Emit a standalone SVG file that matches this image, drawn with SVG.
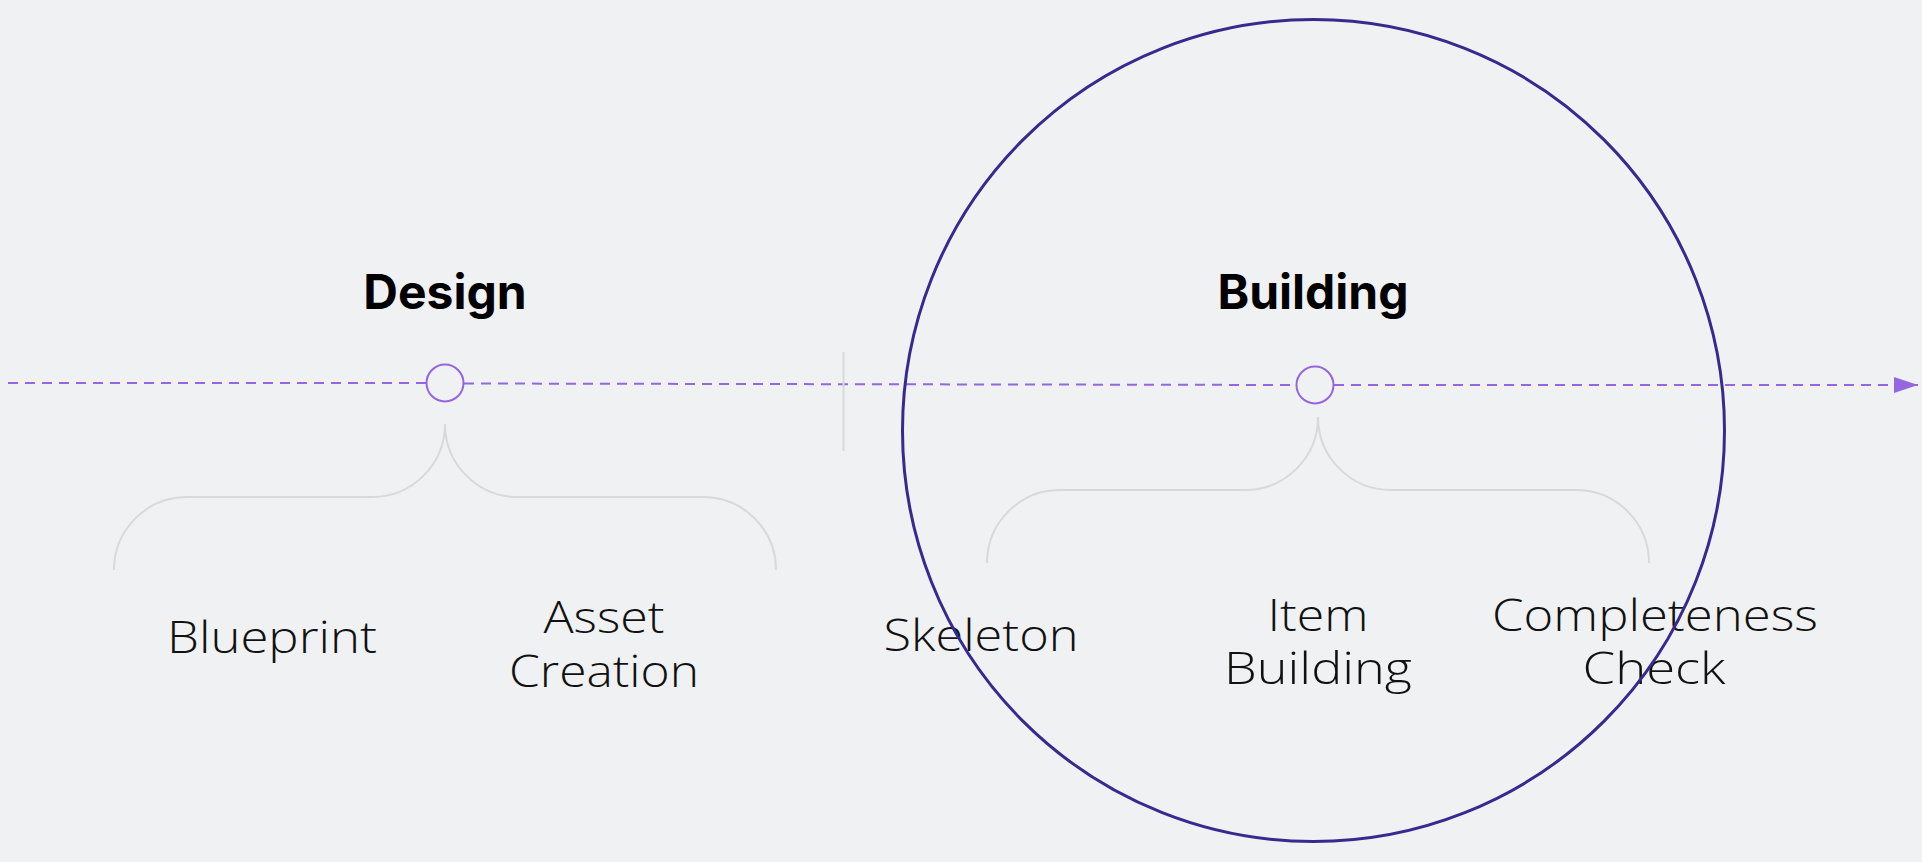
<svg xmlns="http://www.w3.org/2000/svg" width="1922" height="862" viewBox="0 0 1922 862">
  <style>
    .bg { fill: #f0f1f3; }
    .flow { stroke: #9466e0; stroke-width: 2; stroke-dasharray: 10 7; fill: none; }
    .dot { fill: #f0f1f3; stroke: #9466e0; stroke-width: 2; }
    .brace { fill: none; stroke: #d9d9d9; stroke-width: 2; }
    .sep { stroke: #d9d9d9; stroke-width: 2; }
    .title { font-family: Inter, "Liberation Sans", sans-serif; font-weight: 700; font-size: 48px; fill: #000; text-anchor: middle; }
    .label { font-family: "Open Sans", "Liberation Sans", sans-serif; font-weight: 300; font-size: 45px; fill: #111; text-anchor: middle; }
    .ring { fill: none; stroke: #372a8f; stroke-width: 3; }
  </style>
  <defs>
    <marker id="arrow" markerUnits="userSpaceOnUse" markerWidth="24" markerHeight="16" viewBox="0 0 24 16" refX="24" refY="8" orient="auto">
      <path d="M0,0 L24,8 L0,16 z" fill="#9466e0"/>
    </marker>
  </defs>
  <rect class="bg" x="0" y="0" width="1922" height="862"/>

  <g id="connectors">
    <line class="flow" x1="8" y1="383" x2="426" y2="383"/>
    <line class="flow" x1="464" y1="383.5" x2="1296" y2="385"/>
    <line class="flow" x1="1334" y1="385" x2="1918" y2="385" marker-end="url(#arrow)"/>
    <line class="sep" x1="843.5" y1="352" x2="843.5" y2="451"/>
  </g>

  <g id="design">
    <text class="title" x="445" y="309">Design</text>
    <circle class="dot" cx="445" cy="383" r="18.5"/>
    <path class="brace" d="M445 424 A73 73 0 0 1 372 497 H187 A73 73 0 0 0 114 570"/>
    <path class="brace" d="M445 424 A73 73 0 0 0 518 497 H703 A73 73 0 0 1 776 570"/>
  </g>

  <g id="blueprint">
    <text class="label" x="272" y="653" textLength="210" lengthAdjust="spacingAndGlyphs">Blueprint</text>
  </g>
  <g id="asset-creation">
    <text class="label" x="604" y="633" textLength="121" lengthAdjust="spacingAndGlyphs">Asset</text>
    <text class="label" x="604" y="687" textLength="190" lengthAdjust="spacingAndGlyphs">Creation</text>
  </g>

  <g id="building">
    <text class="title" x="1313" y="309">Building</text>
    <circle class="dot" cx="1315" cy="385" r="18.5"/>
    <path class="brace" d="M1318 417 A73 73 0 0 1 1245 490 H1060 A73 73 0 0 0 987 563"/>
    <path class="brace" d="M1318 417 A73 73 0 0 0 1391 490 H1576 A73 73 0 0 1 1649 563"/>
  </g>

  <g id="skeleton">
    <text class="label" x="981" y="651" textLength="195" lengthAdjust="spacingAndGlyphs">Skeleton</text>
  </g>
  <g id="item-building">
    <text class="label" x="1318" y="631" textLength="101" lengthAdjust="spacingAndGlyphs">Item</text>
    <text class="label" x="1318" y="684" textLength="188" lengthAdjust="spacingAndGlyphs">Building</text>
  </g>
  <g id="completeness-check">
    <text class="label" x="1655" y="631" textLength="326" lengthAdjust="spacingAndGlyphs">Completeness</text>
    <text class="label" x="1654" y="684" textLength="143" lengthAdjust="spacingAndGlyphs">Check</text>
  </g>

  <g id="focus-ring">
    <circle class="ring" cx="1313.5" cy="430.5" r="411"/>
  </g>
</svg>
